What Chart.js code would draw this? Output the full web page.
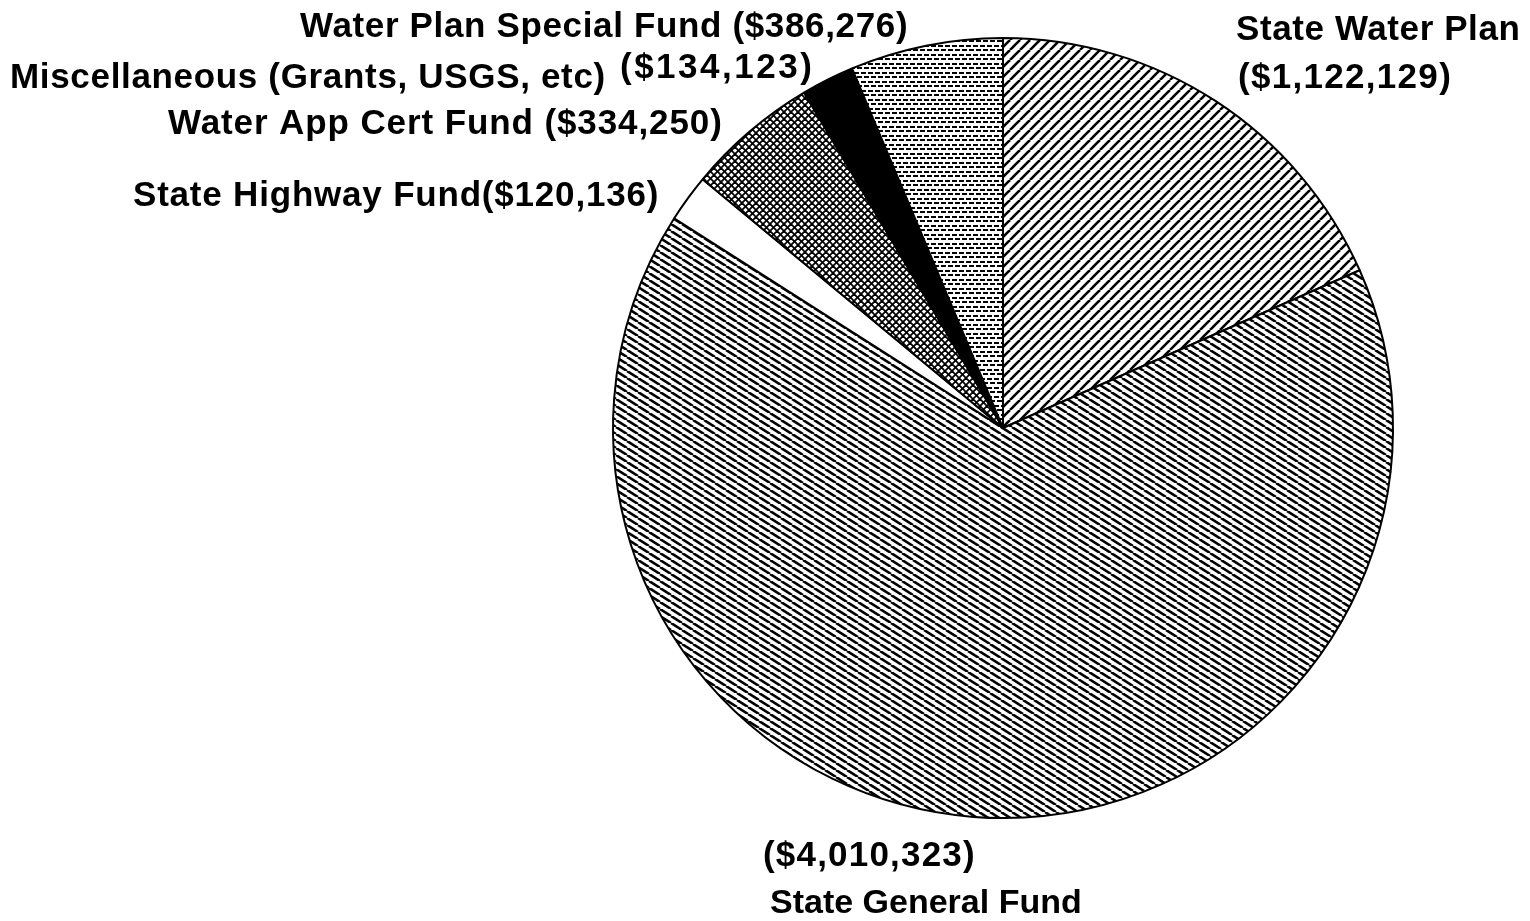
<!DOCTYPE html>
<html>
<head>
<meta charset="utf-8">
<title>Funding Sources</title>
<script src="https://cdn.jsdelivr.net/npm/chart.js@4.4.1/dist/chart.umd.min.js"></script>
<style>
  html, body { margin: 0; padding: 0; background: #fff; }
  #wrap { width: 1530px; height: 921px; position: relative; }
</style>
</head>
<body>
<div id="wrap"><canvas id="pie"></canvas></div>
<script>
// Funding sources, clockwise from 12 o'clock
const fundNames = [
    'State Water Plan',
    'State General Fund',
    'State Highway Fund',
    'Water App Cert Fund',
    'Miscellaneous (Grants, USGS, etc)',
    'Water Plan Special Fund',
];
const fundAmounts = [1122129, 4010323, 120136, 334250, 134123, 386276];

const money = (v) => '($' + v.toLocaleString('en-US') + ')';

// --- fill patterns, drawn on small tiles ---
function tile(w, h, draw) {
    const c = document.createElement('canvas');
    c.width = w; c.height = h;
    const g = c.getContext('2d');
    g.fillStyle = '#fff';
    g.fillRect(0, 0, w, h);
    g.strokeStyle = '#000';
    g.fillStyle = '#000';
    draw(g, w, h);
    return g.createPattern(c, 'repeat');
}

// rising lines  ////
const hatchUp = (w, h, lw) => tile(w, h, (g) => {
    g.lineWidth = lw;
    for (const dx of [-w, 0, w]) {
        g.beginPath(); g.moveTo(dx, h); g.lineTo(dx + w, 0); g.stroke();
    }
});

// falling lines  \\\\
const hatchDown = (w, h, lw) => tile(w, h, (g) => {
    g.lineWidth = lw;
    for (const dx of [-w, 0, w]) {
        g.beginPath(); g.moveTo(dx, 0); g.lineTo(dx + w, h); g.stroke();
    }
});

// diagonal crosshatch
const crossHatch = (s, lw) => tile(s, s, (g) => {
    g.lineWidth = lw;
    for (const dx of [-s, 0, s]) {
        g.beginPath(); g.moveTo(dx, s); g.lineTo(dx + s, 0); g.stroke();
        g.beginPath(); g.moveTo(dx, 0); g.lineTo(dx + s, s); g.stroke();
    }
});

// staggered short dashes (brick look)
const brick = () => tile(14, 9, (g) => {
    g.fillRect(0, 0, 5, 2);
    g.fillRect(7, 0, 5, 2);
    g.fillRect(3, 4, 5, 2);
    g.fillRect(10, 4, 4, 2);
    g.fillRect(0, 4, 1, 2);
});

const fills = [
    hatchUp(10, 10, 2.6),
    hatchDown(11, 7, 2.6),
    '#ffffff',
    crossHatch(7, 1.8),
    '#000000',
    brick(),
];

// --- text labels around the pie ---
const LABEL_FONT = '"Liberation Sans", Arial, Helvetica, sans-serif';
const labelSpots = [
    { i: 5, x: 300,  y: 37,  size: 35, sp: 0.65, text: (n, a) => n + ' ' + a },
    { i: 4, x: 10,   y: 88,  size: 35, sp: 0.67, text: (n) => n },
    { i: 4, x: 620,  y: 78,  size: 35, sp: 2.5,  text: (n, a) => a },
    { i: 3, x: 168,  y: 134, size: 35, sp: 0.9,  text: (n, a) => n + ' ' + a },
    { i: 2, x: 133,  y: 206, size: 35, sp: 0.8,  text: (n, a) => n + a },
    { i: 0, x: 1236, y: 40,  size: 35, sp: 0.6,  text: (n) => n },
    { i: 0, x: 1238, y: 88,  size: 35, sp: 1.3,  text: (n, a) => a },
    { i: 1, x: 763,  y: 866, size: 35, sp: 1.2,  text: (n, a) => a },
    { i: 1, x: 770,  y: 913, size: 34, sp: 0,    text: (n) => n },
];

const labelPlugin = {
    id: 'fundLabels',
    afterDraw(chart) {
        const ctx = chart.ctx;
        ctx.save();
        ctx.fillStyle = '#000';
        ctx.textAlign = 'left';
        ctx.textBaseline = 'alphabetic';
        labelSpots.forEach(s => {
            ctx.font = 'bold ' + s.size + 'px ' + LABEL_FONT;
            ctx.letterSpacing = s.sp + 'px';
            ctx.fillText(s.text(fundNames[s.i], money(fundAmounts[s.i])), s.x, s.y);
        });
        ctx.restore();
    }
};

new Chart(document.getElementById('pie').getContext('2d'), {
    type: 'pie',
    data: {
        labels: fundNames,
        datasets: [{
            data: fundAmounts,
            backgroundColor: fills,
            borderColor: '#000',
            borderWidth: 2,
            hoverOffset: 0,
        }]
    },
    options: {
        responsive: true,
        maintainAspectRatio: false,
        animation: false,
        radius: 390,
        layout: { padding: { left: 613, right: 137, top: 38, bottom: 103 } },
        plugins: {
            legend: { display: false },
            tooltip: { enabled: false },
        }
    },
    plugins: [labelPlugin]
});
</script>
</body>
</html>
